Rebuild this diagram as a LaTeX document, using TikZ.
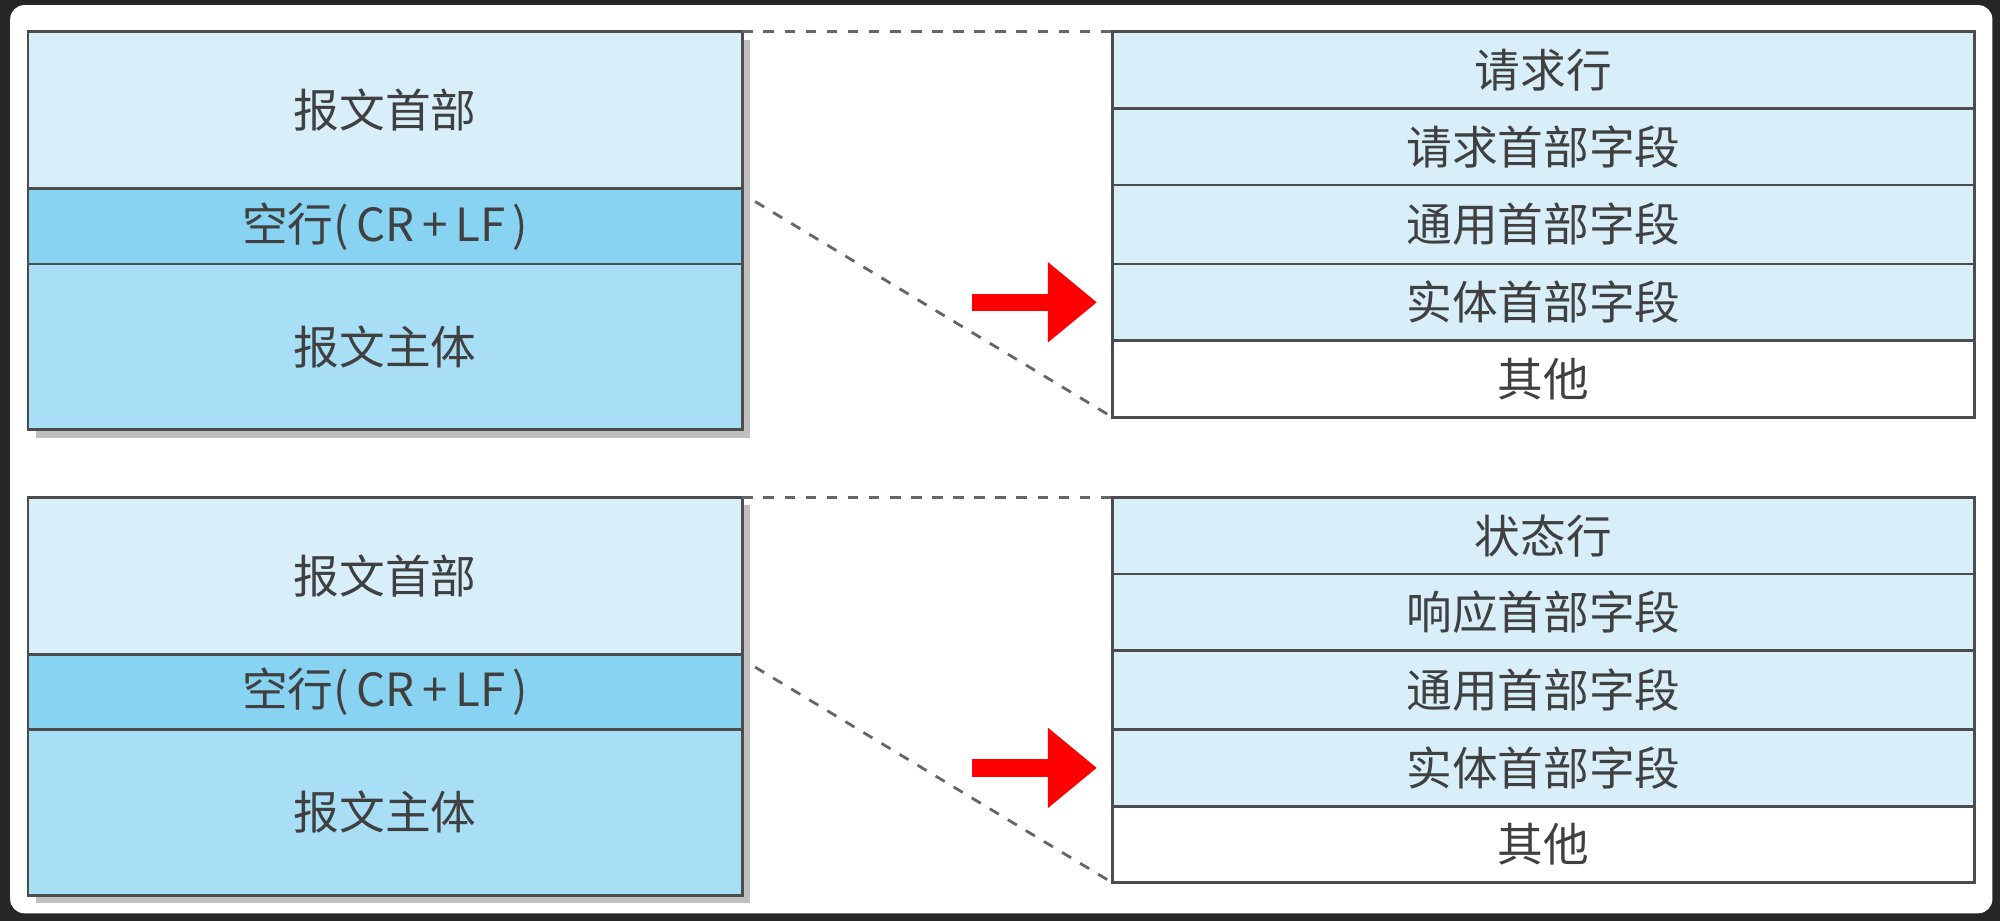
\documentclass[tikz,border=0pt]{standalone}
\usepackage{fontspec}
\setmainfont{Noto Sans CJK SC}
\usetikzlibrary{arrows.meta, positioning, calc}
\definecolor{headblue}{HTML}{D8EFF9}
\definecolor{lineblue}{HTML}{88D2F2}
\definecolor{bodyblue}{HTML}{A9DFF6}
\definecolor{rowblue}{HTML}{D8EFF9}
\begin{document}
\begin{tikzpicture}[x=0.012755cm, y=-0.012755cm,
    every node/.style={font=\fontsize{13pt}{15pt}\selectfont, text=black!75},
    part/.style={rectangle, draw=black!70, thick, inner sep=0pt, outer sep=0pt},
    row/.style={part, fill=rowblue},
    guide/.style={thick, dashed, draw=black!60},
    pointer/.style={line width=5pt, red, -{Triangle[length=14pt, width=22pt]}}
]
% frame
\fill[black!85] (0,0) rectangle (1568,722);
\fill[white, rounded corners=4pt] (8,4) rectangle (1562,716);

\foreach \dy/\first/\second/\tag in {0/请求行/请求首部字段/a, 365/状态行/响应首部字段/b} {
  \begin{scope}[yshift=-\dy*0.012755cm]
    % message
    \fill[black!25] (28,31) rectangle (588,343);
    \node[part, fill=headblue, minimum width=560*0.012755cm, minimum height=123*0.012755cm, anchor=north west] (head\tag) at (22,25) {报文首部};
    \node[part, fill=lineblue, minimum width=560*0.012755cm, minimum height=59*0.012755cm, below=0pt of head\tag] (crlf\tag) {空行(\,CR\,+\,LF\,)};
    \node[part, fill=bodyblue, minimum width=560*0.012755cm, minimum height=130*0.012755cm, below=0pt of crlf\tag] (body\tag) {报文主体};
    % header fields
    \node[row, minimum width=676*0.012755cm, minimum height=60*0.012755cm, anchor=north west] (r1\tag) at (872,25) {\first};
    \node[row, minimum width=676*0.012755cm, minimum height=60*0.012755cm, below=0pt of r1\tag] (r2\tag) {\second};
    \node[row, minimum width=676*0.012755cm, minimum height=62*0.012755cm, below=0pt of r2\tag] (r3\tag) {通用首部字段};
    \node[row, minimum width=676*0.012755cm, minimum height=60*0.012755cm, below=0pt of r3\tag] (r4\tag) {实体首部字段};
    \node[part, fill=white, minimum width=676*0.012755cm, minimum height=60*0.012755cm, below=0pt of r4\tag] (r5\tag) {其他};
    % guides
    \draw[guide] (head\tag.north east) -- (r1\tag.north west);
    \draw[guide] ($(crlf\tag.north east)+(10,10)$) -- (r5\tag.south west);
    \coordinate (tail\tag) at (762,237);
    \draw[pointer] (tail\tag |- r4\tag.west) -- ($(r4\tag.west)+(-12,0)$);
  \end{scope}
}
\end{tikzpicture}
\end{document}
